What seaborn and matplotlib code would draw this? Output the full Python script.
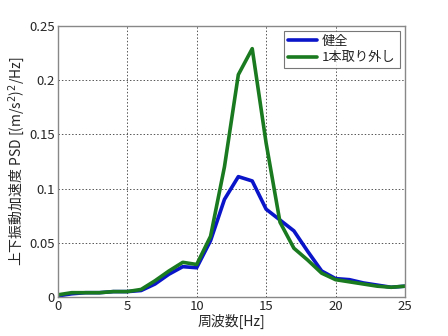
import matplotlib
matplotlib.use("Agg")
import matplotlib.pyplot as plt
import pandas as pd
import seaborn as sns

# ── Data ───────────────────────────────────────────────────
freq_hz = list(range(0, 26))
psd_healthy = [0.001, 0.003, 0.004, 0.004, 0.005, 0.005, 0.006, 0.012, 0.021,
               0.028, 0.027, 0.052, 0.090, 0.111, 0.107, 0.081, 0.071, 0.061,
               0.042, 0.024, 0.017, 0.016, 0.013, 0.011, 0.009, 0.010]
psd_removed = [0.002, 0.004, 0.004, 0.004, 0.005, 0.005, 0.007, 0.015, 0.024,
               0.032, 0.030, 0.056, 0.120, 0.205, 0.229, 0.142, 0.069, 0.045,
               0.034, 0.022, 0.016, 0.014, 0.012, 0.010, 0.009, 0.010]
series_names = ["健全", "1本取り外し"]
x_ticks = [0, 5, 10, 15, 20, 25]
y_ticks = [0, 0.05, 0.1, 0.15, 0.2, 0.25]
y_tick_labels = ["0", "0.05", "0.1", "0.15", "0.2", "0.25"]

df = pd.concat([
    pd.DataFrame({"freq": freq_hz, "psd": psd_healthy, "case": series_names[0]}),
    pd.DataFrame({"freq": freq_hz, "psd": psd_removed, "case": series_names[1]}),
])

sns.set_style("white")
plt.rcParams["font.family"] = ["Noto Sans CJK JP", "DejaVu Sans"]
plt.rcParams["mathtext.fontset"] = "dejavusans"

fig = plt.figure(figsize=(4.48, 3.36), dpi=100)
ax = fig.add_axes([0.129, 0.116, 0.775, 0.807])

sns.lineplot(data=df, x="freq", y="psd", hue="case", ax=ax,
             palette={series_names[0]: "#0a14c8", series_names[1]: "#1a7a1f"},
             linewidth=2.6)

ax.set_xlim(0, 25)
ax.set_ylim(0, 0.25)
ax.set_xticks(x_ticks)
ax.set_yticks(y_ticks)
ax.set_yticklabels(y_tick_labels)
ax.tick_params(labelsize=9.5, length=0, pad=2)
ax.grid(True, color="#555555", linestyle=(0, (1.5, 2)), linewidth=0.7)
for s in ax.spines.values():
    s.set_color("#888888")
    s.set_linewidth(1.0)

ax.set_xlabel("周波数[Hz]", fontsize=10, labelpad=1)
ax.set_ylabel("上下振動加速度 PSD [(m/s$^2$)$^2$/Hz]", fontsize=10, labelpad=2)

leg = ax.legend(loc="upper right", fontsize=9.5, frameon=True, fancybox=False,
                borderaxespad=0.4, handlelength=2.2, borderpad=0.3,
                labelspacing=0.25, handletextpad=0.4)
leg.get_frame().set_edgecolor("#555555")
leg.get_frame().set_linewidth(0.8)

fig.savefig("out.png", dpi=100)
